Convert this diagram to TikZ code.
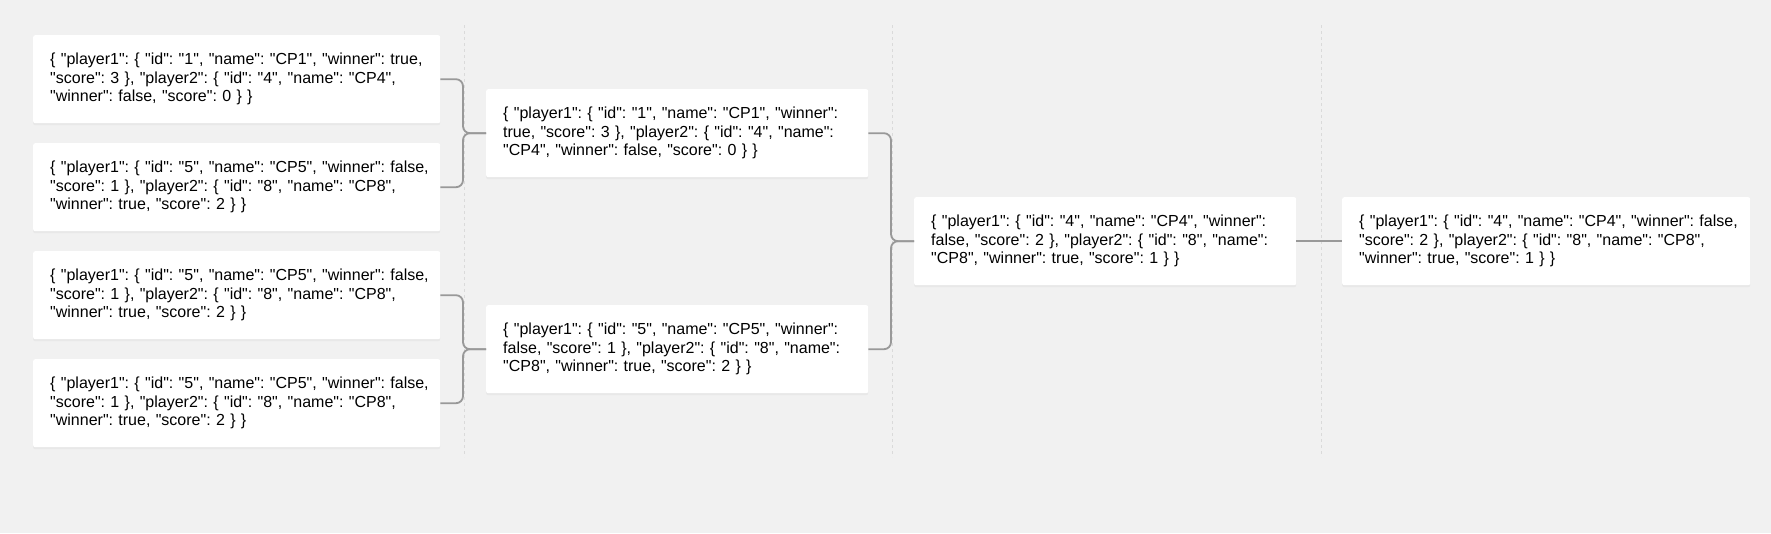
\documentclass[tikz,border=0pt]{standalone}
\usepackage{fontspec}
\setmainfont{Liberation Sans}[Ligatures=TeXOff]
\frenchspacing
\usetikzlibrary{shadows}
\definecolor{bgc}{HTML}{F1F1F1}
\definecolor{connc}{HTML}{999999}
\definecolor{sepc}{HTML}{DADADA}
\newcommand\jl[1]{\mbox{#1}}
\tikzset{
  match/.style={fill=white, rounded corners=2pt, anchor=north west,
    minimum height=88pt, inner xsep=17pt, inner ysep=0pt, align=left,
    font=\fontsize{16}{18.4}\selectfont\frenchspacing, text=black,
    general shadow={fill=black!9, shadow yshift=-2pt}},
  colA/.style={match, text width=373pt},
  colB/.style={match, text width=348pt},
  colD/.style={match, text width=374pt},
  conn/.style={draw=connc, line width=1.8pt, rounded corners=7pt},
  sepline/.style={draw=sepc, line width=0.9pt, dash pattern=on 3pt off 3pt}
}
\begin{document}
\begin{tikzpicture}[x=1pt,y=-1pt]
\fill[bgc] (0,0) rectangle (1771,533);
\useasboundingbox (0,0) rectangle (1771,533);
% column separators
\draw[sepline] (464,25) -- (464,457);
\draw[sepline] (892,25) -- (892,457);
\draw[sepline] (1321,25) -- (1321,457);
% round 1
\node[colA] (r1) at (33,35) {\jl{\{ "player1": \{ "id": "1", "name": "CP1", "winner": true,}\\ \jl{"score": 3 \}, "player2": \{ "id": "4", "name": "CP4",}\\ \jl{"winner": false, "score": 0 \} \}}};
\node[colA] (r2) at (33,143) {\jl{\{ "player1": \{ "id": "5", "name": "CP5", "winner": false,}\\ \jl{"score": 1 \}, "player2": \{ "id": "8", "name": "CP8",}\\ \jl{"winner": true, "score": 2 \} \}}};
\node[colA] (r3) at (33,251) {\jl{\{ "player1": \{ "id": "5", "name": "CP5", "winner": false,}\\ \jl{"score": 1 \}, "player2": \{ "id": "8", "name": "CP8",}\\ \jl{"winner": true, "score": 2 \} \}}};
\node[colA] (r4) at (33,359) {\jl{\{ "player1": \{ "id": "5", "name": "CP5", "winner": false,}\\ \jl{"score": 1 \}, "player2": \{ "id": "8", "name": "CP8",}\\ \jl{"winner": true, "score": 2 \} \}}};
% round 2
\node[colB] (q1) at (486,89) {\jl{\{ "player1": \{ "id": "1", "name": "CP1", "winner":}\\ \jl{true, "score": 3 \}, "player2": \{ "id": "4", "name":}\\ \jl{"CP4", "winner": false, "score": 0 \} \}}};
\node[colB] (q2) at (486,305) {\jl{\{ "player1": \{ "id": "5", "name": "CP5", "winner":}\\ \jl{false, "score": 1 \}, "player2": \{ "id": "8", "name":}\\ \jl{"CP8", "winner": true, "score": 2 \} \}}};
% round 3
\node[colB] (s1) at (914,197) {\jl{\{ "player1": \{ "id": "4", "name": "CP4", "winner":}\\ \jl{false, "score": 2 \}, "player2": \{ "id": "8", "name":}\\ \jl{"CP8", "winner": true, "score": 1 \} \}}};
% final
\node[colD] (f1) at (1342,197) {\jl{\{ "player1": \{ "id": "4", "name": "CP4", "winner": false,}\\ \jl{"score": 2 \}, "player2": \{ "id": "8", "name": "CP8",}\\ \jl{"winner": true, "score": 1 \} \}}};
% connectors
\draw[conn] (r1.east) -| ([xshift=-23pt]q1.west) -- (q1.west);
\draw[conn] (r2.east) -| ([xshift=-23pt]q1.west) -- (q1.west);
\draw[conn] (r3.east) -| ([xshift=-23pt]q2.west) -- (q2.west);
\draw[conn] (r4.east) -| ([xshift=-23pt]q2.west) -- (q2.west);
\draw[conn] (q1.east) -| ([xshift=-23pt]s1.west) -- (s1.west);
\draw[conn] (q2.east) -| ([xshift=-23pt]s1.west) -- (s1.west);
\draw[conn] (s1.east) -- (f1.west);
\end{tikzpicture}
\end{document}
